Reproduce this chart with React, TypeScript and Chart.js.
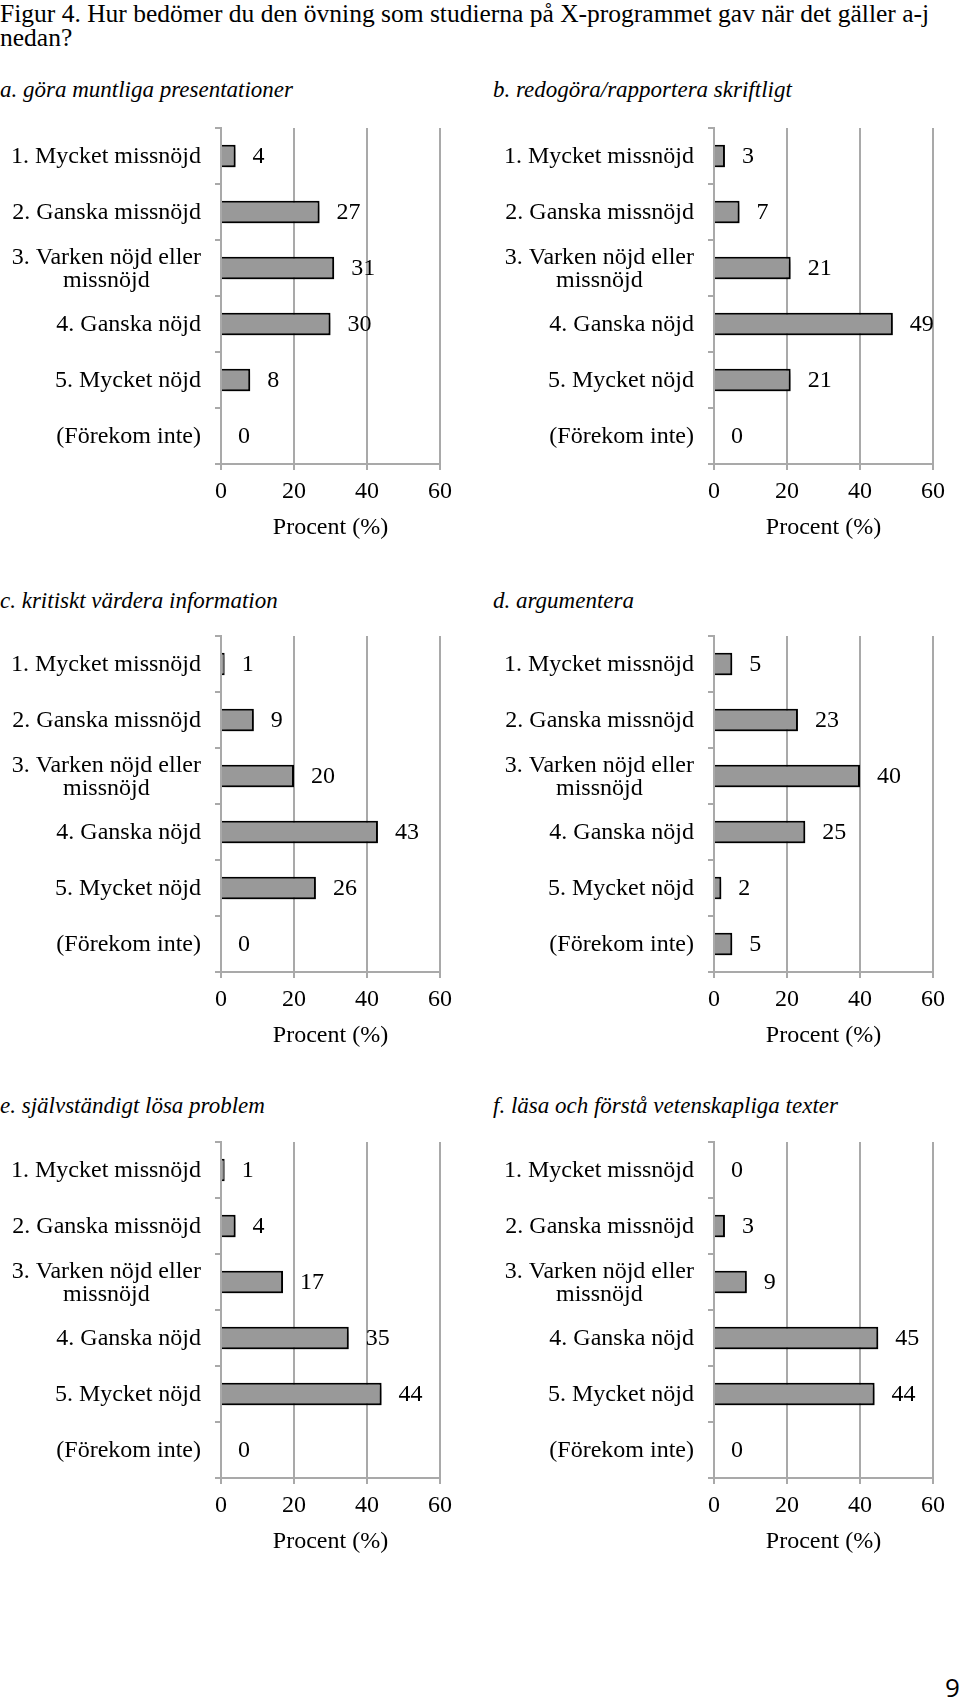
import React, { useEffect, useRef } from "react";
import { Chart, registerables } from "chart.js";

Chart.register(...registerables);

// ---------- data ----------
const categories: (string | string[])[] = [
  "1. Mycket missnöjd",
  "2. Ganska missnöjd",
  ["3. Varken nöjd eller", "missnöjd"],
  "4. Ganska nöjd",
  "5. Mycket nöjd",
  "(Förekom inte)",
];

const valuesA = [4, 27, 31, 30, 8, 0];
const valuesB = [3, 7, 21, 49, 21, 0];
const valuesC = [1, 9, 20, 43, 26, 0];
const valuesD = [5, 23, 40, 25, 2, 5];
const valuesE = [1, 4, 17, 35, 44, 0];
const valuesF = [0, 3, 9, 45, 44, 0];

const xTickValues = [0, 20, 40, 60];
const xAxisTitle = "Procent (%)";

const figureTitle1 =
  "Figur 4. Hur bedömer du den övning som studierna på X-programmet gav när det gäller a-j";
const figureTitle2 = "nedan?";

const subTitleA = "a. göra muntliga presentationer";
const subTitleB = "b. redogöra/rapportera skriftligt";
const subTitleC = "c. kritiskt värdera information";
const subTitleD = "d. argumentera";
const subTitleE = "e. självständigt lösa problem";
const subTitleF = "f. läsa och förstå vetenskapliga texter";

const pageNumber = "9";

// ---------- styles ----------
const SERIF = "'Liberation Serif', 'Times New Roman', serif";
const GRID = "#a9a9a9";
const BAR_FILL = "#999999";
const FONT_SIZE = 24;

const decoPlugin = {
  id: "deco",
  beforeDatasetsDraw(chart: any) {
    const ctx = chart.ctx;
    ctx.save();
    ctx.shadowColor = "rgba(0,0,0,0.5)";
    ctx.shadowBlur = 5;
    ctx.shadowOffsetX = 2;
    ctx.shadowOffsetY = 3;
  },
  afterDatasetsDraw(chart: any) {
    const ctx = chart.ctx;
    ctx.restore();
    ctx.save();
    ctx.font = `${FONT_SIZE}px ${SERIF}`;
    ctx.fillStyle = "#000";
    ctx.textAlign = "left";
    ctx.textBaseline = "middle";
    const meta = chart.getDatasetMeta(0);
    const data = chart.data.datasets[0].data as number[];
    meta.data.forEach((bar: any, i: number) => {
      ctx.fillText(String(data[i]), bar.x + 17, bar.y + 1);
    });
    ctx.restore();
  },
  afterDraw(chart: any) {
    const ctx = chart.ctx;
    const yScale = chart.scales.y;
    const rightX = chart.chartArea.left - 20;
    ctx.save();
    ctx.font = `${FONT_SIZE}px ${SERIF}`;
    ctx.fillStyle = "#000";
    ctx.textBaseline = "middle";
    const labels = chart.data.labels as (string | string[])[];
    labels.forEach((lab, i) => {
      const y = yScale.getPixelForTick(i) + 1;
      if (Array.isArray(lab)) {
        const widths = lab.map((l) => ctx.measureText(l).width);
        const maxW = Math.max(...widths);
        const cx = rightX - maxW / 2;
        const lh = 23;
        const start = y - ((lab.length - 1) * lh) / 2;
        ctx.textAlign = "center";
        lab.forEach((l, k) => ctx.fillText(l, cx, start + k * lh));
      } else {
        ctx.textAlign = "right";
        ctx.fillText(lab, rightX, y);
      }
    });
    ctx.restore();
  },
};

type PanelProps = {
  values: number[];
  left: number;
  top: number; // top of chart area
  axisX: number; // absolute x of the y-axis
};

const CANVAS_W = 480;
const PAD_TOP = 20;
const AREA_H = 336;
const XAXIS_H = 100;
const CANVAS_H = PAD_TOP + AREA_H + XAXIS_H;
const AREA_W = 219;

function Panel({ values, left, top, axisX }: PanelProps) {
  const ref = useRef<HTMLCanvasElement | null>(null);
  useEffect(() => {
    if (!ref.current) return;
    const yWidth = axisX - left;
    const padRight = CANVAS_W - yWidth - AREA_W;
    const font = { family: SERIF, size: FONT_SIZE };
    const chart = new Chart(ref.current, {
      type: "bar",
      data: {
        labels: categories as any,
        datasets: [
          {
            data: values,
            backgroundColor: BAR_FILL,
            borderColor: "#000",
            borderWidth: 2,
            barPercentage: 0.4,
            categoryPercentage: 1,
          },
        ],
      },
      options: {
        indexAxis: "y",
        animation: false,
        responsive: false,
        layout: { padding: { top: PAD_TOP, right: padRight, left: 0, bottom: 0 } },
        plugins: { legend: { display: false }, tooltip: { enabled: false } },
        scales: {
          x: {
            type: "linear",
            min: xTickValues[0],
            max: xTickValues[xTickValues.length - 1],
            afterBuildTicks: (scale: any) => {
              scale.ticks = xTickValues.map((v) => ({ value: v }));
            },
            ticks: { font, color: "#000", padding: 7, maxRotation: 0 },
            grid: { color: GRID, lineWidth: 2, tickLength: 6 },
            border: { color: GRID, width: 2 },
            title: {
              display: true,
              text: xAxisTitle,
              font,
              color: "#000",
              padding: { top: 0, bottom: 22 },
            },
            afterFit: (scale: any) => {
              scale.height = XAXIS_H;
            },
          },
          y: {
            type: "category",
            ticks: { display: false },
            grid: {
              drawOnChartArea: false,
              color: GRID,
              lineWidth: 2,
              tickLength: 6,
              offset: true,
            },
            border: { color: GRID, width: 2 },
            afterFit: (scale: any) => {
              scale.width = yWidth;
            },
          },
        },
      } as any,
      plugins: [decoPlugin],
    });
    return () => chart.destroy();
  }, [values, left, top, axisX]);

  return (
    <canvas
      ref={ref}
      width={CANVAS_W}
      height={CANVAS_H}
      style={{
        position: "absolute",
        left,
        top: top - PAD_TOP,
        width: CANVAS_W,
        height: CANVAS_H,
        display: "block",
      }}
    />
  );
}

function SubTitle({ text, left, baseline }: { text: string; left: number; baseline: number }) {
  const fs = 23;
  return (
    <div
      style={{
        position: "absolute",
        left,
        top: baseline - 0.8375 * fs,
        fontFamily: SERIF,
        fontStyle: "italic",
        fontSize: fs,
        lineHeight: `${fs}px`,
        whiteSpace: "nowrap",
        color: "#000",
      }}
    >
      {text}
    </div>
  );
}

export default function App() {
  const rowTops = [128, 636, 1142];
  const subBaselines = [97, 608, 1113];
  return (
    <div
      style={{
        position: "absolute",
        left: 0,
        top: 0,
        width: 960,
        height: 1698,
        overflow: "hidden",
        background: "#fff",
      }}
    >
      <div
        style={{
          position: "absolute",
          left: 0,
          top: 2.4,
          fontFamily: SERIF,
          fontSize: 25.5,
          lineHeight: "24px",
          whiteSpace: "nowrap",
          color: "#000",
        }}
      >
        {figureTitle1}
        <br />
        {figureTitle2}
      </div>

      <SubTitle text={subTitleA} left={0} baseline={subBaselines[0]} />
      <SubTitle text={subTitleB} left={493} baseline={subBaselines[0]} />
      <SubTitle text={subTitleC} left={0} baseline={subBaselines[1]} />
      <SubTitle text={subTitleD} left={493} baseline={subBaselines[1]} />
      <SubTitle text={subTitleE} left={0} baseline={subBaselines[2]} />
      <SubTitle text={subTitleF} left={493} baseline={subBaselines[2]} />

      <Panel values={valuesA} left={0} top={rowTops[0]} axisX={221} />
      <Panel values={valuesB} left={480} top={rowTops[0]} axisX={714} />
      <Panel values={valuesC} left={0} top={rowTops[1]} axisX={221} />
      <Panel values={valuesD} left={480} top={rowTops[1]} axisX={714} />
      <Panel values={valuesE} left={0} top={rowTops[2]} axisX={221} />
      <Panel values={valuesF} left={480} top={rowTops[2]} axisX={714} />

      <div
        style={{
          position: "absolute",
          left: 945,
          top: 1674,
          fontFamily: "'Open Sans', sans-serif",
          fontSize: 26,
          lineHeight: "26px",
          color: "#000",
        }}
      >
        {pageNumber}
      </div>
    </div>
  );
}
